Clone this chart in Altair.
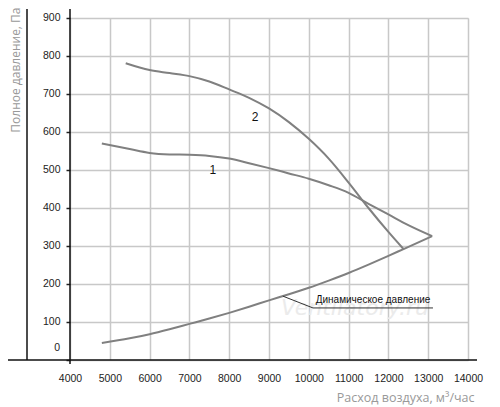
import altair as alt
import pandas as pd

# ---- data ----
c2_x = [5400, 6000, 6500, 7000, 7500, 8000, 8500, 9000, 9500, 10000, 10500, 11000, 11500, 12000, 12380]
c2_y = [781, 763, 755, 747, 733, 712, 690, 662, 626, 582, 530, 467, 400, 337, 292]

c1_x = [4800, 5500, 6000, 6500, 7000, 7500, 8000, 8500, 9000, 9500, 10000, 10500, 11000, 11500, 12000, 12500, 13100]
c1_y = [570, 555, 545, 541, 540, 537, 530, 518, 505, 491, 477, 460, 440, 411, 383, 355, 326]

dyn_x = [4800, 5500, 6000, 6500, 7000, 7500, 8000, 8500, 9000, 9500, 10000, 10500, 11000, 11500, 12000, 12380, 13100]
dyn_y = [45, 57, 68, 81, 95, 109, 124, 140, 157, 173, 190, 209, 229, 251, 274, 292, 326]

x_ticks = [4000, 5000, 6000, 7000, 8000, 9000, 10000, 11000, 12000, 13000, 14000]
y_ticks = [0, 100, 200, 300, 400, 500, 600, 700, 800, 900]

curve_labels = ["1", "2"]
curve_label_x = [7590, 8650]
curve_label_y = [500, 639]

dyn_text = "Динамическое давление"
dyn_text_x = [11613]
dyn_text_y = [158]
leader_x = [9350, 10105, 13120]
leader_y = [168, 137, 137]

x_title = "Расход воздуха, м³/час"
y_title = "Полное давление, Па"
watermark = "Ventilatory.ru"

FONT = "Liberation Sans"
TFONT = "Open Sans"
CURVE = "#808080"

rows = []
for name, xs_, ys_ in (("2", c2_x, c2_y), ("1", c1_x, c1_y), ("dyn", dyn_x, dyn_y)):
    for i, (a, b) in enumerate(zip(xs_, ys_)):
        rows.append({"series": name, "q": a, "p": b, "order": i})
curves = pd.DataFrame(rows)

xs = alt.Scale(domain=[4000, 14000], nice=False, zero=False)
ys = alt.Scale(domain=[0, 900], nice=False, zero=False)

x_axis = alt.Axis(values=x_ticks, tickCount=11, grid=True, gridColor="#c8c8c8", gridWidth=1.5,
                  domain=False, ticks=False, labelFont=FONT, labelFontSize=10.5,
                  labelColor="#222", labelPadding=13, format="d", labelOverlap=False,
                  labelFlush=False,
                  title=x_title, titleFont=TFONT, titleFontSize=12.5,
                  titleFontWeight="normal", titleColor="#999",
                  titleX=404, titleY=37, titleAlign="right", titleBaseline="middle")
y_axis = alt.Axis(values=y_ticks, tickCount=10, grid=True, gridColor="#c8c8c8", gridWidth=1.5,
                  domain=False, ticks=True, tickSize=4, tickColor="#222", tickWidth=1.5,
                  labelFont=FONT, labelFontSize=10.5, labelColor="#222", labelPadding=6,
                  labelOverlap=False, labelFlush=False,
                  labelExpr="datum.value == 0 ? '' : datum.label", labelOffset=-1,
                  title=y_title, titleFont=TFONT, titleFontSize=12,
                  titleFontWeight="normal", titleColor="#999", titleAngle=270,
                  titleX=-55, titleY=-11, titleAlign="right", titleBaseline="middle")

X = alt.X("q:Q", scale=xs, axis=x_axis)
Y = alt.Y("p:Q", scale=ys, axis=y_axis)

base = alt.Chart(curves).mark_line(color=CURVE, strokeWidth=2, interpolate="monotone").encode(
    x=X, y=Y, detail="series:N", order="order:Q",
)

wm = alt.Chart(pd.DataFrame({"t": [watermark], "q": [11160], "p": [137]})).mark_text(
    font="DejaVu Sans", fontSize=22, fontStyle="italic", color="#ebebeb"
).encode(x=X, y=Y, text="t:N")

leader = alt.Chart(pd.DataFrame({"q": leader_x, "p": leader_y, "o": [0, 1, 2]})).mark_line(
    color="#333", strokeWidth=1
).encode(x=X, y=Y, order="o:Q")

dyn_lbl = alt.Chart(pd.DataFrame({"t": [dyn_text], "q": dyn_text_x, "p": dyn_text_y})).mark_text(
    font=FONT, fontSize=10, color="#111"
).encode(x=X, y=Y, text="t:N")

num_lbl = alt.Chart(pd.DataFrame({"t": curve_labels, "q": curve_label_x, "p": curve_label_y})).mark_text(
    font=FONT, fontSize=12, color="#111"
).encode(x=X, y=Y, text="t:N")

zero_lbl = alt.Chart(pd.DataFrame({"t": ["0"], "p": [0]})).mark_text(
    font=FONT, fontSize=10.5, color="#222", align="right", dy=-12
).encode(x=alt.value(-10), y=Y, text="t:N")

one = pd.DataFrame({"k": [0]})
x_line = alt.Chart(one).mark_rule(color="#111", strokeWidth=1.5).encode(
    x=alt.value(-62), x2=alt.value(407), y=alt.value(342))
y_line = alt.Chart(one).mark_rule(color="#111", strokeWidth=1.5).encode(
    x=alt.value(0), y=alt.value(-9), y2=alt.value(346))
left_line = alt.Chart(one).mark_rule(color="#111", strokeWidth=1.5).encode(
    x=alt.value(-43), y=alt.value(-9), y2=alt.value(342))

chart = alt.layer(base, wm, leader, dyn_lbl, num_lbl, zero_lbl, x_line, y_line, left_line).properties(
    width=398, height=342,
    autosize=alt.AutoSizeParams(type="none"),
    padding={"left": 62, "top": 10, "right": 24, "bottom": 45},
).configure_view(stroke=None).configure(background="white")

chart.save("out.html", embed_options={"renderer": "svg", "actions": False})
